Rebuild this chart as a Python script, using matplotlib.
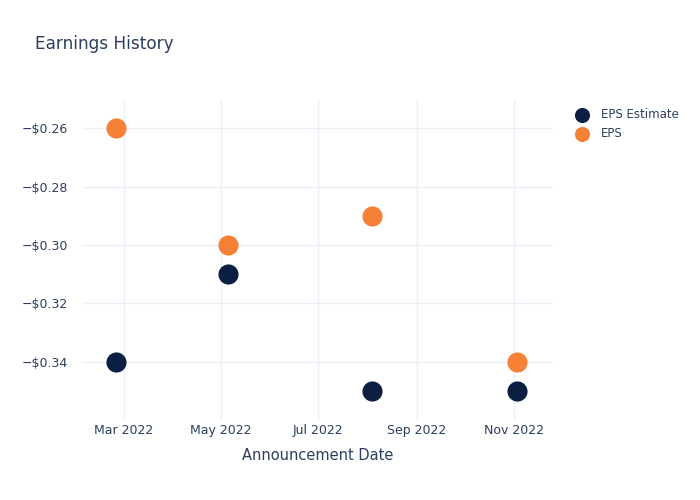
import matplotlib

matplotlib.use("Agg")
import matplotlib.dates as mdates
import matplotlib.pyplot as plt
import numpy as np
from matplotlib.ticker import FuncFormatter

dates = np.array(["2022-02-24", "2022-05-05", "2022-08-04", "2022-11-03"], dtype="datetime64[D]")
eps_estimate = [-0.34, -0.31, -0.35, -0.35]
eps_actual = [-0.26, -0.30, -0.29, -0.34]

text_color = "#2a3f5f"
grid_color = "#ebf0f8"

fig = plt.figure(figsize=(7, 5), dpi=100)
ax = fig.add_axes([0.117, 0.16, 0.673, 0.64])

ax.scatter(dates, eps_estimate, s=210, color="#0c1f42", label="EPS Estimate", zorder=3, linewidths=0)
ax.scatter(dates, eps_actual, s=210, color="#f58137", label="EPS", zorder=3, linewidths=0)

ax.set_xlim(np.datetime64("2022-02-02T12"), np.datetime64("2022-11-25T12"))
ax.set_ylim(-0.36, -0.2503)
ax.set_yticks([-0.34, -0.32, -0.30, -0.28, -0.26])
ax.yaxis.set_major_formatter(FuncFormatter(lambda v, _: f"\u2212${abs(v):.2f}"))
ax.xaxis.set_major_locator(mdates.MonthLocator(bymonth=[3, 5, 7, 9, 11]))
ax.xaxis.set_major_formatter(mdates.DateFormatter("%b %Y"))

ax.grid(True, color=grid_color, linewidth=1)
ax.set_axisbelow(True)
for sp in ax.spines.values():
    sp.set_visible(False)
ax.tick_params(length=0, colors=text_color, labelsize=9)
ax.tick_params(axis="x", pad=3)
ax.tick_params(axis="y", pad=10)

ax.set_xlabel("Announcement Date", color=text_color, fontsize=10.5, labelpad=8)
fig.text(0.05, 0.912, "Earnings History", color=text_color, fontsize=12.2, va="center")

fig.legend(
    loc="upper left",
    bbox_to_anchor=(0.80, 0.806),
    frameon=False,
    fontsize=8.5,
    labelcolor=text_color,
    handletextpad=0.6,
    labelspacing=0.55,
    markerscale=0.75,
)

fig.savefig("out.png", dpi=100)
